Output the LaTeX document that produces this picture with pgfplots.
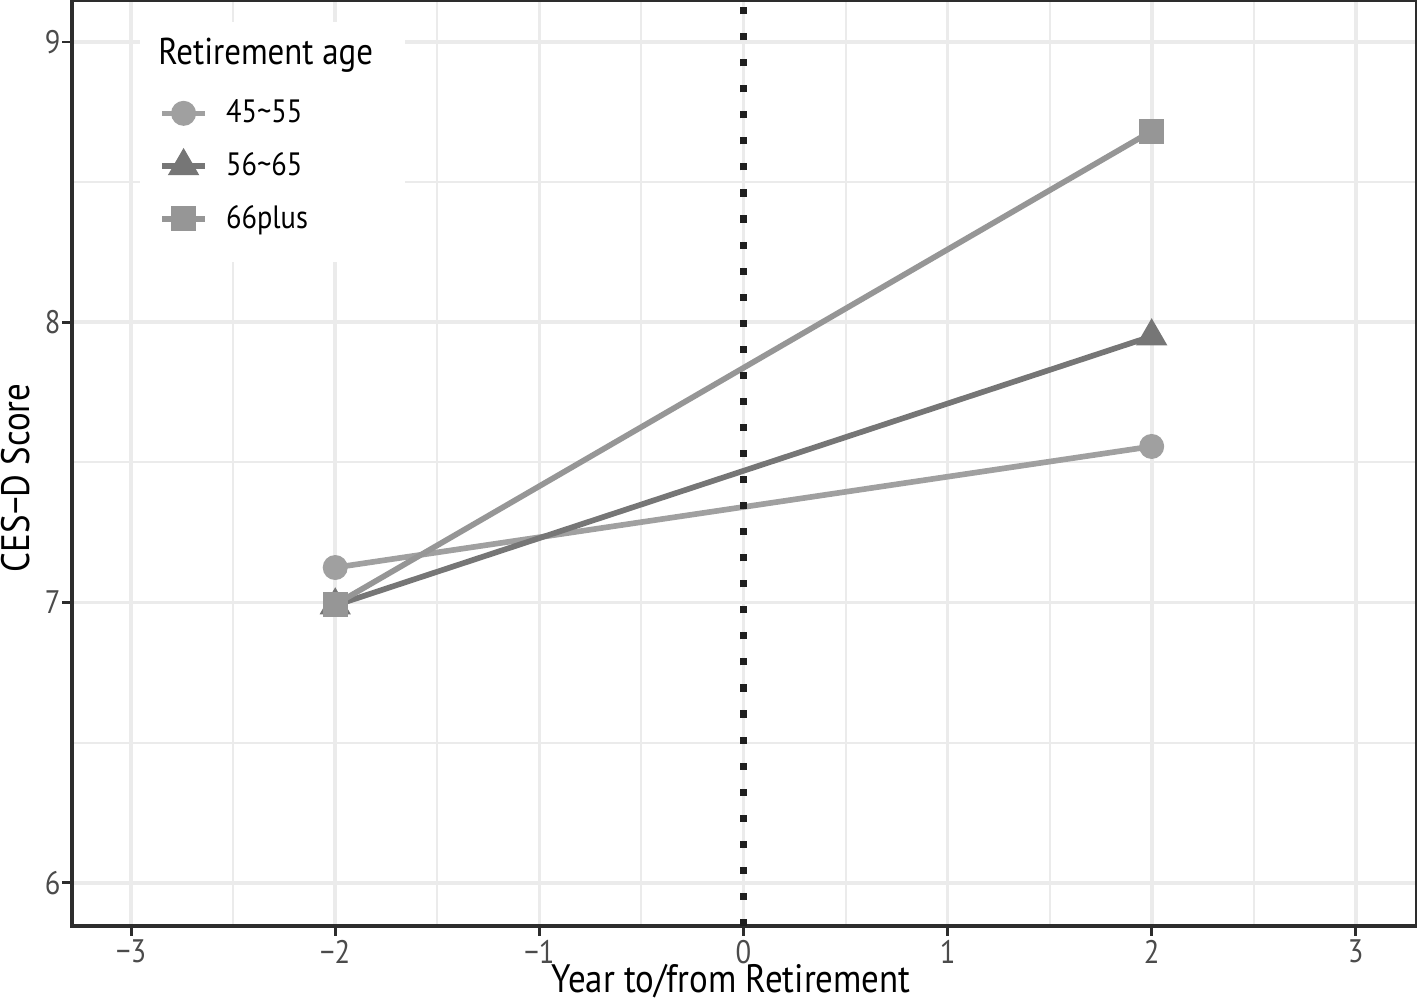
\documentclass[border=0pt]{standalone}
\usepackage{fontspec}
\setmainfont{PT Sans}[FakeStretch=0.88]
\usepackage{pgfplots}
\pgfplotsset{compat=1.18}

\definecolor{gA}{RGB}{160,160,160}
\definecolor{gB}{RGB}{118,118,118}
\definecolor{gC}{RGB}{150,150,150}
\definecolor{gridc}{RGB}{235,235,235}
\definecolor{axc}{RGB}{45,45,45}
\definecolor{tickc}{RGB}{75,75,75}

\begin{document}
\begin{tikzpicture}
  \begin{axis}[
      scale only axis,
      width=475pt, height=327pt,
      xmin=-3.29, xmax=3.30,
      ymin=5.846, ymax=9.15,
      axis line style={axc, line width=1.4pt},
      xtick pos=lower, ytick pos=lower,
      xtick={-3,-2,-1,0,1,2,3},
      xticklabels={−3,−2,−1,0,1,2,3},
      ytick={6,7,8,9},
      yticklabels={6,7,8,9},
      minor xtick={-2.5,-1.5,-0.5,0.5,1.5,2.5},
      minor ytick={6.5,7.5,8.5},
      grid=both,
      major grid style={gridc, line width=1.3pt},
      minor grid style={gridc, line width=0.7pt},
      tick align=outside,
      major tick length=3.5pt, minor tick length=0pt,
      tick style={axc, line width=1pt},
      ticklabel style={font=\fontsize{11.5}{13}\selectfont, text=tickc},
      xticklabel style={inner sep=1pt, yshift=-0.3pt},
      yticklabel style={xshift=3pt},
      xlabel={Year to/from Retirement},
      ylabel={CES−D Score},
      label style={font=\fontsize{14}{16}\selectfont, text=black, inner sep=0pt},
      xlabel style={at={(axis description cs:0.49,0)}, anchor=base, yshift=-23.6pt},
      ylabel style={at={(axis description cs:0,0.484)}, anchor=north, yshift=25pt},
      legend cell align=left,
      legend style={at={(rel axis cs:0.0647,0.899)}, anchor=north west,
        fill=none, draw=none, inner sep=0pt,
        font=\fontsize{11.4}{13}\selectfont, row sep=5pt, column sep=4.5pt},
      legend image code/.code={
        \draw[mark repeat=2, mark phase=2] plot coordinates {(0pt,0pt) (7.5pt,0pt) (15pt,0pt)};},
    ]

    % white legend background covering the grid, and the legend title
    \fill[white] (rel axis cs:0.0506,0.7168) rectangle (rel axis cs:0.2476,0.976);
    \node[anchor=west, inner sep=0pt, font=\fontsize{13.2}{15}\selectfont]
      at (rel axis cs:0.0639,0.9405) {Retirement age};

    \addplot[gA, line width=2pt, mark=*, mark size=3.4pt]
      coordinates {(-2,7.125) (2,7.557)};
    \addlegendentry{45\textasciitilde55}

    \addplot[gB, line width=2pt, mark=triangle*, mark size=4.4pt]
      coordinates {(-2,6.99) (2,7.95)};
    \addlegendentry{56\textasciitilde65}

    \addplot[gC, line width=2pt, mark=square*, mark size=3.4pt]
      coordinates {(-2,6.993) (2,8.682)};
    \addlegendentry{66plus}

    % retirement reference line
    \addplot[black!88, line width=2.5pt, dash pattern=on 2.5pt off 6.7pt, forget plot]
      coordinates {(0,5.846) (0,9.15)};
  \end{axis}
  \pgfresetboundingbox
  \path[use as bounding box] (current axis.south west) ++(-25.4pt,-26.9pt)
    rectangle (current axis.north east);
\end{tikzpicture}
\end{document}
